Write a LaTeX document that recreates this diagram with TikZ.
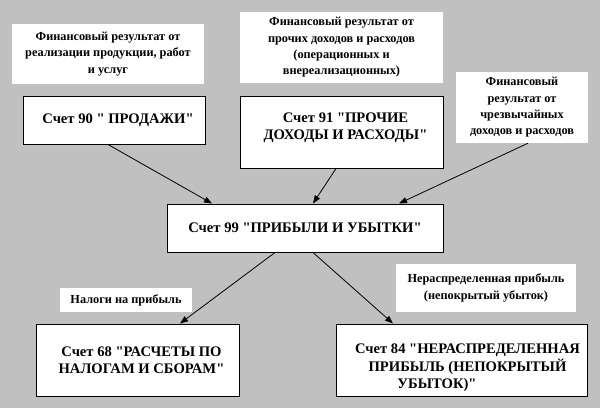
\documentclass[tikz,border=0pt]{standalone}
\usepackage{fontspec}
\setmainfont{Liberation Serif}[Ligatures=TeXOff]
\usepackage{tikz}
\usetikzlibrary{arrows.meta}

\definecolor{bggrey}{RGB}{192,192,192}

\tikzset{
  acct/.style={draw=black,line width=1pt,fill=white,align=center,inner sep=2pt,
    font=\fontsize{14.6}{17.5}\selectfont\bfseries},
  note/.style={fill=white,align=center,inner sep=2pt,
    font=\fontsize{12.3}{16.3}\selectfont\bfseries},
  flow/.style={-{Triangle[length=8pt,width=6pt]},line width=0.8pt}
}

\begin{document}
\begin{tikzpicture}[x=1pt,y=-1pt]
      \useasboundingbox[fill=bggrey] (0,0) rectangle (600,408);

      \node[note,minimum width=192pt,minimum height=60pt] (n90) at (108,54)
        {Финансовый результат от\\реализации продукции, работ\\и услуг};
      \node[note,minimum width=203pt,minimum height=71pt] (n91) at (341.5,47.5)
        {Финансовый результат от\\прочих доходов и расходов\\(операционных и\\внереализационных)};
      \node[note,minimum width=132pt,minimum height=71pt] (n99) at (522,107.5)
        {Финансовый\\результат от\\чрезвычайных\\доходов и расходов};
      \node[note,minimum width=132pt,minimum height=24pt] (ntax) at (126,300)
        {Налоги на прибыль};
      \node[note,minimum width=180pt,minimum height=48pt] (nret) at (486,288)
        {Нераспределенная прибыль\\(непокрытый убыток)};

      \node[acct,minimum width=182pt,minimum height=48pt] (s90) at (114,120)
        {\hspace*{8pt}Счет 90 " ПРОДАЖИ"};
      \node[acct,minimum width=203pt,minimum height=72pt] (s91) at (341.5,132)
        {\hspace*{8pt}Счет 91 "ПРОЧИЕ\\\hspace*{8pt}ДОХОДЫ И РАСХОДЫ"\rule[-12pt]{0pt}{1pt}};
      \node[acct,minimum width=276pt,minimum height=48pt] (s99) at (305,228)
        {Счет 99 "ПРИБЫЛИ И УБЫТКИ"};
      \node[acct,minimum width=203pt,minimum height=72pt] (s68) at (137.5,360)
        {\hspace*{8pt}Счет 68 "РАСЧЕТЫ ПО\\\hspace*{8pt}НАЛОГАМ И СБОРАМ"};
      \node[acct,minimum width=251pt,minimum height=72pt] (s84) at (461.5,360)
        {\hspace*{12pt}\rule{0pt}{26pt}Счет 84 "НЕРАСПРЕДЕЛЕННАЯ\\\hspace*{12pt}ПРИБЫЛЬ (НЕПОКРЫТЫЙ\\\hspace*{-49pt}УБЫТОК)"};

      \draw[flow] ([xshift=-6pt]s90.south) to ([xshift=-93pt]s99.north);
      \draw[flow] ([xshift=-5.5pt]s91.south) to ([xshift=8pt]s99.north);
      \draw[flow] ([xshift=6pt]n99.south) to ([xshift=94pt]s99.north);
      \draw[flow] ([xshift=-30pt]s99.south) to ([xshift=42.5pt]s68.north);
      \draw[flow] ([xshift=8pt]s99.south) to ([xshift=-68.5pt]s84.north);
    \end{tikzpicture}
\end{document}
